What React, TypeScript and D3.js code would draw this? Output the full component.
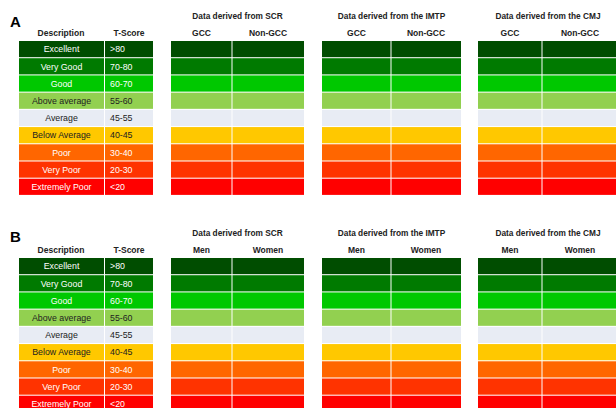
import * as d3 from 'd3';

const descriptions = ['Excellent', 'Very Good', 'Good', 'Above average', 'Average', 'Below Average', 'Poor', 'Very Poor', 'Extremely Poor'];
const tScores = ['>80', '70-80', '60-70', '55-60', '45-55', '40-45', '30-40', '20-30', '<20'];
const rowColors = ['#004d00', '#007a00', '#00c800', '#92d050', '#e8ecf4', '#ffc800', '#ff6600', '#ff3300', '#ff0000'];
const darkText = ['Above average', 'Average', 'Below Average'];

const sources = ['Data derived from SCR', 'Data derived from the IMTP', 'Data derived from the CMJ'];
const panelColumnsA = ['GCC', 'Non-GCC'];
const panelColumnsB = ['Men', 'Women'];

// block x extents: [left, divider, right]
const blockEdges = [
  [171, 232, 304],
  [322, 391, 461],
  [478, 542, 618],
];

const FONT = 'Liberation Sans, Arial, sans-serif';

const Panel = ({ label, top, letterY, cols }: { label: string; top: number; letterY: number; cols: string[] }) => {
  const y = d3
    .scaleBand<string>()
    .domain(descriptions)
    .range([top + 24, top + 24 + 9 * 17.1])
    .paddingInner(0.06);
  const bw = y.bandwidth();

  return (
    <g>
      <text x={10} y={letterY} fontSize={15} fontWeight='bold' fontFamily={FONT} fill='#000'>
        {label}
      </text>
      <text x={61} y={top + 19} fontSize={8.5} fontWeight='bold' textAnchor='middle' fontFamily={FONT} fill='#222'>
        Description
      </text>
      <text x={129} y={top + 19} fontSize={8.5} fontWeight='bold' textAnchor='middle' fontFamily={FONT} fill='#222'>
        T-Score
      </text>
      {descriptions.map((d, i) => {
        const yy = y(d) as number;
        const tc = darkText.includes(d) ? '#222' : '#fff';
        return (
          <g key={d}>
            <rect x={19} y={yy} width={85} height={bw} fill={rowColors[i]} />
            <rect x={105} y={yy} width={48} height={bw} fill={rowColors[i]} />
            <text x={61.5} y={yy + bw / 2 + 3.2} fontSize={8.8} textAnchor='middle' fontFamily={FONT} fill={tc}>
              {d}
            </text>
            <text x={110} y={yy + bw / 2 + 3.2} fontSize={8.8} fontFamily={FONT} fill={tc}>
              {tScores[i]}
            </text>
          </g>
        );
      })}
      {sources.map((s, b) => {
        const [l, m, r] = blockEdges[b];
        return (
          <g key={s}>
            <text x={(l + r) / 2} y={top + 2} fontSize={8.3} fontWeight='bold' textAnchor='middle' fontFamily={FONT} fill='#222'>
              {s}
            </text>
            <text x={(l + m) / 2} y={top + 19} fontSize={8.5} fontWeight='bold' textAnchor='middle' fontFamily={FONT} fill='#222'>
              {cols[0]}
            </text>
            <text x={(m + r) / 2} y={top + 19} fontSize={8.5} fontWeight='bold' textAnchor='middle' fontFamily={FONT} fill='#222'>
              {cols[1]}
            </text>
            {descriptions.map((d, i) => {
              const yy = y(d) as number;
              return (
                <g key={d}>
                  <rect x={l} y={yy} width={m - l - 0.5} height={bw} fill={rowColors[i]} />
                  <rect x={m + 0.5} y={yy} width={r - m - 0.5} height={bw} fill={rowColors[i]} />
                </g>
              );
            })}
          </g>
        );
      })}
    </g>
  );
}

export default function App() {
  return (
    <svg width={616} height={408} style={{ position: 'absolute', left: 0, top: 0, background: '#fff' }}>
      <rect width={616} height={408} fill='#fff' />
      <Panel label='A' top={17} letterY={27} cols={panelColumnsA} />
      <Panel label='B' top={234} letterY={242} cols={panelColumnsB} />
    </svg>
  );
}
